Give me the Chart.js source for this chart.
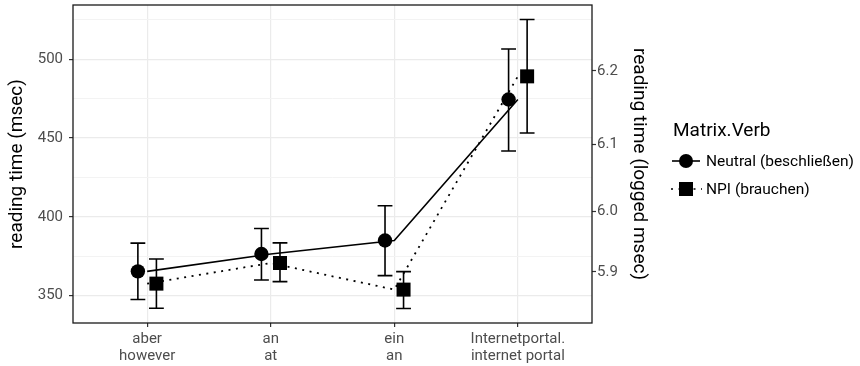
<!DOCTYPE html>
<html><head><meta charset="utf-8">
<script src="https://cdn.jsdelivr.net/npm/chart.js@4/dist/chart.umd.min.js"></script>
<style>html,body{margin:0;padding:0;background:#fff}#wrap{width:860px;height:366px;position:relative}canvas{display:block}</style>
</head><body><div id="wrap"><canvas id="c" width="860" height="366" style="width:860px;height:366px"></canvas></div>
<script>
const categories = [["aber","however"],["an","at"],["ein","an"],["Internetportal.","internet portal"]];
const seriesNames = ["Neutral (beschließen)","NPI (brauchen)"];
const neutralMean = [365.4, 376.4, 385.0, 474.5];
const neutralLow  = [347.5, 359.9, 362.7, 441.8];
const neutralHigh = [383.3, 392.6, 407.0, 506.6];
const npiMean = [357.6, 370.7, 353.8, 489.2];
const npiLow  = [342.0, 358.9, 341.8, 453.2];
const npiHigh = [373.2, 383.5, 365.2, 525.3];
const leftTicks = [350, 375, 400, 425, 450, 475, 500, 525];
const rightTicks = [5.9, 6.0, 6.1, 6.2];
const leftTitle = "reading time (msec)";
const rightTitle = "reading time (logged msec)";
const legendTitle = "Matrix.Verb";

const FONT = "Roboto";
const TICK_SIZE = 15;
const TITLE_SIZE = 19;
const DODGE = 0.075;
const CAP = 0.06;

const pos = (i) => i + 1;
const lineData = (arr) => arr.map((v, i) => ({x: pos(i), y: v}));
const pointData = (arr, off) => arr.map((v, i) => ({x: pos(i) + off, y: v}));

const errorBars = {
  id: 'errorBars',
  beforeDatasetsDraw(chart) {
    const {ctx, scales: {x, y}} = chart;
    ctx.save();
    ctx.strokeStyle = '#000';
    ctx.lineWidth = 1.6;
    const groups = [[neutralLow, neutralHigh, -DODGE], [npiLow, npiHigh, DODGE]];
    groups.forEach(([lo, hi, off]) => {
      lo.forEach((l, i) => {
        const cx = x.getPixelForValue(pos(i) + off);
        const x0 = x.getPixelForValue(pos(i) + off - CAP);
        const x1 = x.getPixelForValue(pos(i) + off + CAP);
        const yl = y.getPixelForValue(l);
        const yh = y.getPixelForValue(hi[i]);
        ctx.beginPath();
        ctx.moveTo(cx, yl); ctx.lineTo(cx, yh);
        ctx.moveTo(x0, yl); ctx.lineTo(x1, yl);
        ctx.moveTo(x0, yh); ctx.lineTo(x1, yh);
        ctx.stroke();
      });
    });
    ctx.restore();
  }
};

const frameAndLegend = {
  id: 'frameAndLegend',
  afterDraw(chart) {
    const {ctx, chartArea: a} = chart;
    ctx.save();
    ctx.strokeStyle = '#1a1a1a';
    ctx.lineWidth = 1.3;
    ctx.strokeRect(a.left, a.top, a.right - a.left, a.bottom - a.top);
    // legend
    const lx = 673;
    ctx.fillStyle = '#000';
    ctx.textBaseline = 'middle';
    ctx.textAlign = 'left';
    ctx.font = `${TITLE_SIZE}px ${FONT}`;
    ctx.fillText(legendTitle, lx, 131);
    ctx.font = `15.5px ${FONT}`;
    const kx = 686;
    const rows = [161, 189];
    ctx.strokeStyle = '#000';
    ctx.lineWidth = 1.6;
    ctx.beginPath(); ctx.moveTo(kx - 14, rows[0]); ctx.lineTo(kx + 14, rows[0]); ctx.stroke();
    ctx.beginPath(); ctx.arc(kx, rows[0], 7, 0, Math.PI * 2); ctx.fill();
    ctx.setLineDash([2, 5.5]);
    ctx.beginPath(); ctx.moveTo(kx - 15, rows[1]); ctx.lineTo(kx + 16, rows[1]); ctx.stroke();
    ctx.setLineDash([]);
    ctx.fillRect(kx - 7, rows[1] - 7, 14, 14);
    ctx.fillText(seriesNames[0], 706, rows[0] + 1);
    ctx.fillText(seriesNames[1], 706, rows[1] + 1);
    ctx.restore();
  }
};

const gridMajor = (v) => v % 50 === 0;
const zeroPad = (s) => { s.paddingTop = 0; s.paddingBottom = 0; s.paddingLeft = 0; s.paddingRight = 0; };

new Chart(document.getElementById('c'), {
  data: {
    datasets: [
      {type: 'line', data: lineData(neutralMean), borderColor: '#000', borderWidth: 1.6, pointRadius: 0, tension: 0},
      {type: 'line', data: lineData(npiMean), borderColor: '#000', borderWidth: 1.8, borderDash: [2, 5.5], pointRadius: 0, tension: 0},
      {type: 'scatter', data: pointData(neutralMean, -DODGE), pointStyle: 'circle', pointRadius: 7.2, backgroundColor: '#000', borderWidth: 0},
      {type: 'scatter', data: pointData(npiMean, DODGE), pointStyle: 'rect', pointRadius: 9.9, backgroundColor: '#000', borderWidth: 0}
    ]
  },
  options: {
    responsive: false,
    animation: false,
    events: [],
    layout: {autoPadding: false, padding: {top: 5, left: 0, right: 210, bottom: 0}},
    plugins: {legend: {display: false}, tooltip: {enabled: false}},
    scales: {
      x: {
        type: 'linear', min: 0.4, max: 4.6, position: 'bottom',
        afterBuildTicks: (s) => { s.ticks = categories.map((c, i) => ({value: pos(i)})); },
        afterFit: (s) => { s.height = 43; zeroPad(s); },
        ticks: {
          autoSkip: false, maxRotation: 0, padding: 4.5, color: '#4d4d4d',
          font: {family: FONT, size: TICK_SIZE, lineHeight: 1.08},
          callback: (v) => categories[v - 1]
        },
        grid: {color: '#ebebeb', lineWidth: 1.2, tickLength: 4, tickColor: '#333', tickWidth: 1.2},
        border: {display: false}
      },
      y: {
        type: 'linear', min: 332.6, max: 534.5, position: 'left',
        afterBuildTicks: (s) => { s.ticks = leftTicks.map(v => ({value: v})); },
        afterFit: (s) => { s.width = 73; zeroPad(s); },
        ticks: {
          padding: 6, color: '#4d4d4d', font: {family: FONT, size: TICK_SIZE},
          callback: (v) => gridMajor(v) ? String(v) : ''
        },
        grid: {
          color: (c) => gridMajor(c.tick.value) ? '#ebebeb' : '#f3f3f3',
          lineWidth: (c) => gridMajor(c.tick.value) ? 1.2 : 1,
          tickLength: 4,
          tickColor: (c) => gridMajor(c.tick.value) ? '#333' : 'rgba(0,0,0,0)',
          tickWidth: 1.2
        },
        border: {display: false},
        title: {display: true, text: leftTitle, color: '#000', font: {family: FONT, size: TITLE_SIZE}, padding: {top: 5.5, bottom: 0}}
      },
      y2: {
        type: 'linear', min: 332.6, max: 534.5, position: 'right',
        afterBuildTicks: (s) => { s.ticks = rightTicks.map(v => ({value: Math.exp(v)})); },
        afterFit: (s) => { s.width = 58; zeroPad(s); },
        ticks: {
          padding: 1, color: '#4d4d4d', font: {family: FONT, size: TICK_SIZE},
          callback: (v) => Math.log(v).toFixed(1)
        },
        grid: {drawOnChartArea: false, tickLength: 4, tickColor: '#333', tickWidth: 1.2},
        border: {display: false},
        title: {display: true, text: rightTitle, color: '#000', font: {family: FONT, size: TITLE_SIZE}, padding: {top: 0, bottom: 0}}
      }
    }
  },
  plugins: [errorBars, frameAndLegend]
});
</script>
</body></html>
